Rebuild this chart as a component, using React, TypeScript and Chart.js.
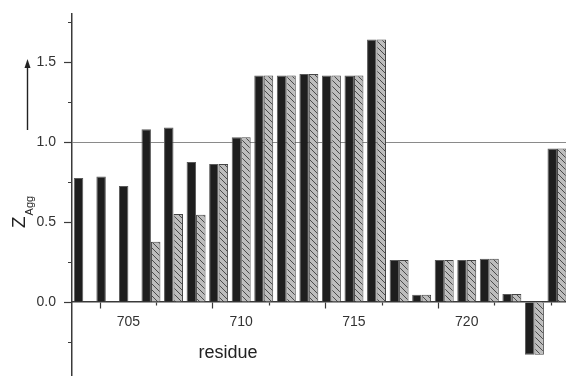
import React, { useEffect, useRef } from "react";
import { Chart, registerables } from "chart.js";

Chart.register(...registerables);

// Residue numbers along the x axis
const residues = [
  703, 704, 705, 706, 707, 708, 709, 710, 711, 712, 713,
  714, 715, 716, 717, 718, 719, 720, 721, 722, 723, 724,
];

// Z_Agg per residue, solid series
const zaggSolid = [
  0.775, 0.785, 0.725, 1.08, 1.09, 0.875, 0.8625, 1.03, 1.415, 1.415, 1.425,
  1.415, 1.415, 1.64, 0.2625, 0.045, 0.2625, 0.2625, 0.27, 0.05, -0.33, 0.96,
];

// Z_Agg per residue, hatched series (no value for the first three residues)
const zaggHatched: (number | null)[] = [
  null, null, null, 0.377, 0.55, 0.546, 0.8625, 1.03, 1.415, 1.415, 1.425,
  1.415, 1.415, 1.64, 0.2625, 0.045, 0.2625, 0.2625, 0.27, 0.05, -0.33, 0.96,
];

// Labelled ticks
const xLabelTicks = [705, 710, 715, 720];
const yLabelTicks = [0, 0.5, 1.0, 1.5];
const referenceLevel = 1.0;

const FONT = 'Arial, "Liberation Sans", sans-serif';
const AXIS = "#3a3a3a";

function makeHatch(): CanvasPattern | string {
  const c = document.createElement("canvas");
  const n = 6;
  c.width = n;
  c.height = n;
  const g = c.getContext("2d");
  if (!g) return "#b5b5b5";
  g.fillStyle = "#bdbdbd";
  g.fillRect(0, 0, n, n);
  g.strokeStyle = "#4a4a4a";
  g.lineWidth = 1;
  g.beginPath();
  g.moveTo(-1, -1);
  g.lineTo(n + 1, n + 1);
  g.moveTo(n - 1, -1);
  g.lineTo(n + 1, 1);
  g.moveTo(-1, n - 1);
  g.lineTo(1, n + 1);
  g.stroke();
  const p = g.createPattern(c, "repeat");
  return p || "#b5b5b5";
}

// Axis titles and the upward arrow beside the y axis
const annotations = {
  id: "annotations",
  afterDraw(chart: Chart) {
    const ctx = chart.ctx;
    ctx.save();
    ctx.fillStyle = "#222";
    ctx.strokeStyle = "#222";

    // x title
    ctx.font = `18px ${FONT}`;
    ctx.textAlign = "center";
    ctx.textBaseline = "alphabetic";
    ctx.fillText("residue", 228, 358);

    // y title: Z with subscript Agg, rotated
    ctx.save();
    ctx.translate(25, 228);
    ctx.rotate(-Math.PI / 2);
    ctx.textAlign = "left";
    ctx.font = `19px ${FONT}`;
    ctx.fillText("Z", 0, 0);
    const zw = ctx.measureText("Z").width;
    ctx.font = `11px ${FONT}`;
    ctx.fillText("Agg", zw + 1, 8);
    ctx.restore();

    // arrow
    ctx.lineWidth = 1.4;
    ctx.beginPath();
    ctx.moveTo(27.5, 130);
    ctx.lineTo(27.5, 66);
    ctx.stroke();
    ctx.beginPath();
    ctx.moveTo(27.5, 59);
    ctx.lineTo(24.5, 68);
    ctx.lineTo(30.5, 68);
    ctx.closePath();
    ctx.fill();
    ctx.restore();
  },
};

export default function App() {
  const ref = useRef<HTMLCanvasElement | null>(null);

  useEffect(() => {
    if (!ref.current) return;
    const hatch = makeHatch();
    const isMajorX = (v: number) => xLabelTicks.includes(v);
    const isMajorY = (v: number) => yLabelTicks.some((t) => Math.abs(t - v) < 1e-9);

    const chart = new Chart(ref.current, {
      type: "bar",
      data: {
        datasets: [
          {
            label: "solid",
            data: residues.map((r, i) => ({ x: r, y: zaggSolid[i] })),
            backgroundColor: "#1e1e1e",
            borderColor: "#5a5a5a",
            borderWidth: 1,
            categoryPercentage: 0.84,
            barPercentage: 1.0,
          },
          {
            label: "hatched",
            data: residues.map((r, i) => ({ x: r, y: zaggHatched[i] })),
            backgroundColor: hatch as any,
            borderColor: "#454545",
            borderWidth: 1,
            categoryPercentage: 0.84,
            barPercentage: 1.0,
          },
        ],
      },
      options: {
        responsive: false,
        animation: false,
        layout: { padding: { top: 14, right: 0, bottom: 0, left: 0 } },
        plugins: {
          legend: { display: false },
          tooltip: { enabled: false },
        },
        scales: {
          x: {
            type: "linear",
            position: { y: 0 } as any,
            min: 702.5,
            max: 724.4,
            offset: false,
            ticks: {
              stepSize: 2.5,
              includeBounds: false,
              autoSkip: false,
              maxRotation: 0,
              padding: 6,
              color: "#333",
              font: { family: FONT, size: 14 },
              callback: (v: any) => (isMajorX(Number(v)) ? String(v) : ""),
            },
            grid: {
              drawOnChartArea: false,
              drawTicks: true,
              tickLength: 6,
              tickColor: AXIS,
              tickWidth: 1.2,
              tickBorderDash: (c: any) => (c.tick && isMajorX(c.tick.value) ? [] : [3, 100]),
            } as any,
            border: { display: true, color: AXIS, width: 1.5 },
            afterFit: (s: any) => {
              s.paddingLeft = 0;
              s.paddingRight = 0;
            },
          },
          y: {
            type: "linear",
            min: -0.4625,
            max: 1.8,
            ticks: {
              stepSize: 0.25,
              includeBounds: false,
              autoSkip: false,
              padding: 8,
              color: "#333",
              font: { family: FONT, size: 14 },
              callback: (v: any) => {
                const n = Number(v);
                return isMajorY(n) ? n.toFixed(1) : "";
              },
            },
            grid: {
              drawOnChartArea: true,
              drawTicks: true,
              tickLength: 8,
              color: (c: any) =>
                c.tick && Math.abs(c.tick.value - referenceLevel) < 1e-9 ? "#8a8a8a" : "rgba(0,0,0,0)",
              lineWidth: 1,
              tickColor: AXIS,
              tickWidth: 1.2,
              tickBorderDash: (c: any) => (c.tick && isMajorY(c.tick.value) ? [] : [0, 4, 4, 100]),
            } as any,
            border: { display: true, color: AXIS, width: 1.5 },
            afterFit: (s: any) => {
              s.width = 72;
              s.paddingTop = 0;
              s.paddingBottom = 0;
            },
          },
        },
      },
      plugins: [annotations],
    });
    return () => chart.destroy();
  }, []);

  return (
    <div style={{ position: "fixed", left: 0, top: 0, width: 566, height: 376, background: "#fff" }}>
      <canvas ref={ref} width={566} height={376} style={{ display: "block" }} />
    </div>
  );
}
